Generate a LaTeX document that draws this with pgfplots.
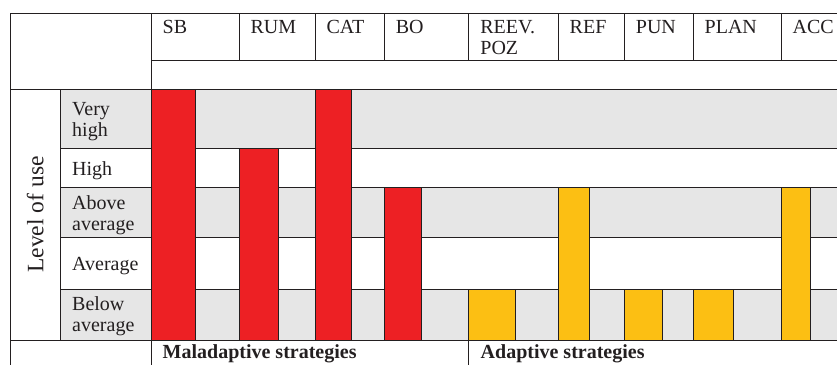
\documentclass[border=0pt]{standalone}
\usepackage{pgfplots}
\pgfplotsset{compat=1.18}
\usepackage{fontspec}
\setmainfont{Liberation Serif}

\definecolor{rulecol}{HTML}{231F20}
\definecolor{bandgray}{HTML}{E6E6E6}
\definecolor{maladaptive}{HTML}{ED2024}
\definecolor{adaptive}{HTML}{FCBF13}

\begin{document}
\begin{tikzpicture}[x=1pt, y=1pt, line width=0.8pt]
\useasboundingbox (0,0) rectangle (837,365);

% shaded rows: very high, above average, below average
\fill[bandgray] (60.3,275.7) rectangle (837,216.7);
\fill[bandgray] (60.3,177.7) rectangle (837,128);
\fill[bandgray] (60.3,75.7)  rectangle (837,25);

% horizontal rules of the table
\begin{scope}[draw=rulecol]
\draw (10,351.7) -- (837,351.7);
\draw (151.7,304.3) -- (837,304.3);
\draw (10,275.7) -- (837,275.7);
\foreach \y in {216.7,177.7,128,75.7} \draw (60.3,\y) -- (837,\y);
\draw (10,25) -- (837,25);
% vertical rules
\draw (10,351.7) -- (10,0);
\draw (151.7,351.7) -- (151.7,0);
\draw (60.3,275.7) -- (60.3,25);
\foreach \x in {239.3,315.3,384.7,468.7,558.3,624.7,693.3,781.3}
  \draw (\x,351.7) -- (\x,304.3);
\draw (468.7,25) -- (468.7,0);
\end{scope}

% bars: x in table units, y = level of use (1 below average ... 5 very high)
\begin{axis}[
  at={(151.7,25)}, anchor=south west,
  scale only axis, width=685.3pt, height=250.7pt,
  xmin=151.7, xmax=837, ymin=0, ymax=5,
  enlargelimits=false, hide axis, clip=false,
  y coord trafo/.code={\pgfmathparse{#1<=1 ? 50.7*#1 : (#1<=2 ? 50.7+52.3*(#1-1) : (#1<=3 ? 103+49.7*(#1-2) : (#1<=4 ? 152.7+39*(#1-3) : 191.7+59*(#1-4))))}},
  every axis plot/.append style={ybar, bar shift=0pt, draw=rulecol, line width=0.8pt},
]
% maladaptive strategies
\addplot[fill=maladaptive, bar width=43.6] coordinates {(173.5,5)};   % SB
\addplot[fill=maladaptive, bar width=39.0] coordinates {(258.8,4)};   % RUM
\addplot[fill=maladaptive, bar width=36.0] coordinates {(333.3,5)};   % CAT
\addplot[fill=maladaptive, bar width=36.6] coordinates {(403.0,3)};   % BO
% adaptive strategies
\addplot[fill=adaptive, bar width=46.6] coordinates {(492.0,1)};      % REEV. POZ
\addplot[fill=adaptive, bar width=31.0] coordinates {(573.8,3)};      % REF
\addplot[fill=adaptive, bar width=37.6] coordinates {(643.5,1)};      % PUN
\addplot[fill=adaptive, bar width=39.7] coordinates {(713.15,1)};     % PLAN
\addplot[fill=adaptive, bar width=29.0] coordinates {(795.8,3)};      % ACC
\end{axis}

% column headings
\begin{scope}[every node/.style={inner sep=0pt, anchor=base west, font=\fontsize{20}{22}\selectfont, text=rulecol}]
\node at (162.5,331.7) {SB};
\node at (250.3,331.7) {RUM};
\node at (326.3,331.7) {CAT};
\node at (395.7,331.7) {BO};
\node at (480.2,331.7) {REEV.};
\node at (480.2,310)   {POZ};
\node at (569.5,331.7) {REF};
\node at (635.7,331.7) {PUN};
\node at (704.5,331.7) {PLAN};
\node at (792.5,331.7) {ACC};
% row labels
\node at (72,249.3) {Very};
\node at (72,228.3) {high};
\node at (72,190)   {High};
\node at (72,155.7) {Above};
\node at (72,135)   {average};
\node at (72,94.3)  {Average};
\node at (72,55)    {Below};
\node at (72,33.3)  {average};
% group captions
\node[font=\fontsize{20}{22}\selectfont\bfseries] at (162.5,6.7) {Maladaptive strategies};
\node[font=\fontsize{20}{22}\selectfont\bfseries] at (480.5,6.7) {Adaptive strategies};
\end{scope}

\node[rotate=90, anchor=base, inner sep=0pt, font=\fontsize{23.5}{25}\selectfont, text=rulecol] at (43.3,150.5) {Level of use};
\end{tikzpicture}
\end{document}
